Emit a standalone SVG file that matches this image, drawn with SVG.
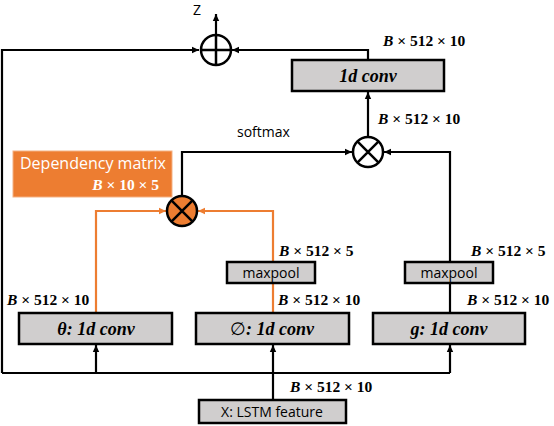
<svg xmlns="http://www.w3.org/2000/svg" width="554" height="426" viewBox="0 0 554 426">
<defs>
<marker id="ab" markerWidth="8" markerHeight="8" refX="7" refY="4" orient="auto" markerUnits="userSpaceOnUse"><path d="M0,0.8 L7,4 L0,7.2 Z" fill="#000"/></marker>
<marker id="ao" markerWidth="8" markerHeight="8" refX="7" refY="4" orient="auto" markerUnits="userSpaceOnUse"><path d="M0,0.8 L7,4 L0,7.2 Z" fill="#ED7D31"/></marker>
</defs>
<style>
.box{fill:#D0CECE;stroke:#000;stroke-width:2.5}
.ln{fill:none;stroke:#000;stroke-width:2.2}
.lo{fill:none;stroke:#ED7D31;stroke-width:2.2}
.math{font-family:"Liberation Serif",serif;font-weight:bold;font-size:15.5px;fill:#000}
.mi{font-style:italic}
.sans{font-family:"Open Sans","Liberation Sans",sans-serif;font-size:14px;fill:#000}
.conv{font-family:"Liberation Serif",serif;font-weight:bold;font-style:italic;font-size:18px;text-anchor:middle}
</style>
<g id="connectors">
<path class="ln" d="M2,373 V50 H199" marker-end="url(#ab)"/>
<path class="ln" d="M368,60 V50 H232" marker-end="url(#ab)"/>
<path class="ln" d="M216,35 V14" marker-end="url(#ab)"/>
<path class="ln" d="M368,137 V92" marker-end="url(#ab)"/>
<path class="ln" d="M182,195 V152 H352" marker-end="url(#ab)"/>
<path class="ln" d="M450,262 V152 H384" marker-end="url(#ab)"/>
<path class="ln" d="M450,313 V283"/>
<path class="lo" d="M96,313 V211 H166" marker-end="url(#ao)"/>
<path class="lo" d="M273,262 V211 H198" marker-end="url(#ao)"/>
<path class="lo" d="M273,313 V283"/>
<path class="ln" d="M2,373 H450"/>
<path class="ln" d="M96,373 V345" marker-end="url(#ab)"/>
<path class="ln" d="M273,400 V345" marker-end="url(#ab)"/>
<path class="ln" d="M450,373 V345" marker-end="url(#ab)"/>
</g>
<g id="plus">
<circle cx="216" cy="50" r="15" fill="#fff" stroke="#000" stroke-width="2.5"/>
<path d="M201,50 H231 M216,35 V65" stroke="#000" stroke-width="2.5"/>
<text x="193" y="15" class="sans" font-size="14">Z</text>
</g>
<g id="mul-top">
<circle cx="368" cy="152" r="15" fill="#fff" stroke="#000" stroke-width="2.5"/>
<path d="M357.4,141.4 L378.6,162.6 M378.6,141.4 L357.4,162.6" stroke="#000" stroke-width="2.5"/>
</g>
<g id="mul-orange">
<circle cx="182" cy="211" r="15" fill="#ED7D31" stroke="#000" stroke-width="2.5"/>
<path d="M171.4,200.4 L192.6,221.6 M192.6,200.4 L171.4,221.6" stroke="#000" stroke-width="2.5"/>
</g>
<g id="conv-top">
<rect class="box" x="292" y="60" width="152" height="31"/>
<text x="368" y="82" class="conv">1d conv</text>
<text x="383" y="46" class="math"><tspan class="mi">B</tspan> × 512 × 10</text>
<text x="378" y="124" class="math"><tspan class="mi">B</tspan> × 512 × 10</text>
</g>
<text x="237" y="137" class="sans" font-size="12.5">softmax</text>
<g id="dependency">
<rect x="13" y="151" width="159" height="46" fill="#ED7D31" stroke="#F4B183" stroke-width="1"/>
<text x="20" y="169" font-family="Open Sans, Liberation Sans, sans-serif" font-size="16" fill="#fff">Dependency matrix</text>
<text x="159" y="190" class="math" style="fill:#fff" text-anchor="end"><tspan class="mi">B</tspan> × 10  × 5</text>
</g>
<g id="maxpool-phi">
<rect class="box" x="227" y="262" width="88" height="21"/>
<text x="271" y="278" class="sans" text-anchor="middle">maxpool</text>
<text x="279" y="256" class="math"><tspan class="mi">B</tspan> × 512 × 5</text>
</g>
<g id="maxpool-g">
<rect class="box" x="405" y="262" width="88" height="21"/>
<text x="449" y="278" class="sans" text-anchor="middle">maxpool</text>
<text x="471" y="256" class="math"><tspan class="mi">B</tspan> × 512 × 5</text>
</g>
<g id="theta">
<rect class="box" x="19" y="313" width="153" height="31"/>
<text x="96" y="335" class="conv">θ: 1d conv</text>
<text x="7" y="305" class="math"><tspan class="mi">B</tspan> × 512 × 10</text>
</g>
<g id="phi">
<rect class="box" x="196" y="313" width="153" height="31"/>
<text x="272" y="335" class="conv"><tspan font-style="normal" font-weight="normal">∅</tspan>: 1d conv</text>
<text x="278" y="305" class="math"><tspan class="mi">B</tspan> × 512 × 10</text>
</g>
<g id="g">
<rect class="box" x="373" y="313" width="152" height="31"/>
<text x="449" y="335" class="conv">g: 1d conv</text>
<text x="467" y="305" class="math"><tspan class="mi">B</tspan> × 512 × 10</text>
</g>
<g id="x">
<rect class="box" x="199" y="400" width="147" height="23" stroke-width="1.5"/>
<text x="272" y="417" class="sans" text-anchor="middle" font-size="15">X: LSTM feature</text>
<text x="290" y="392" class="math"><tspan class="mi">B</tspan> × 512 × 10</text>
</g>
</svg>
